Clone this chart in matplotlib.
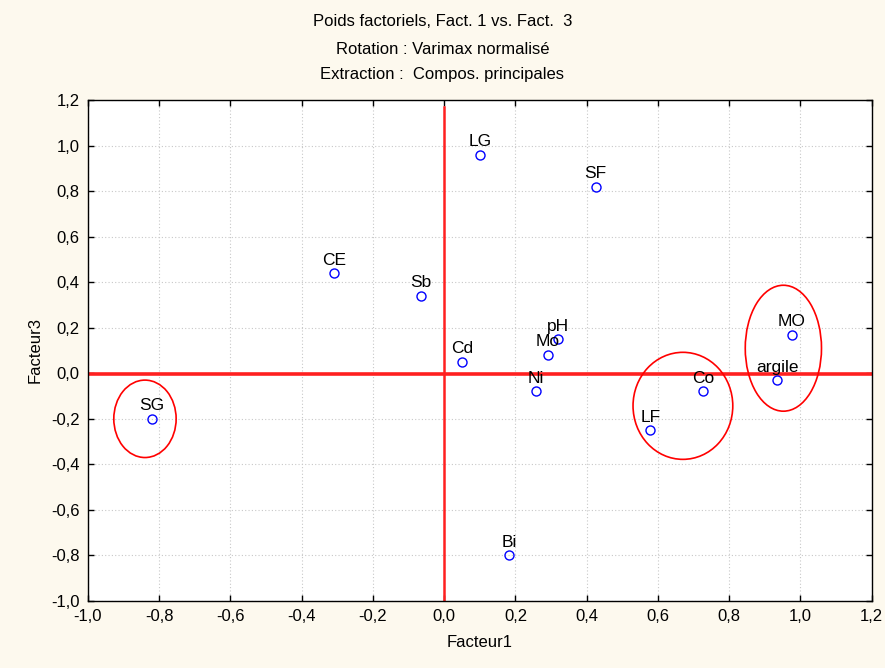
import matplotlib

matplotlib.use("Agg")
import matplotlib.pyplot as plt
from matplotlib.patches import Ellipse
from matplotlib.ticker import FuncFormatter, MultipleLocator

plt.rcParams["font.family"] = ["Liberation Sans", "DejaVu Sans"]

# loadings
labels = ["LG", "SF", "CE", "Sb", "Cd", "pH", "Mo", "Ni", "Bi", "LF", "Co", "argile", "MO", "SG"]
fact1 = [0.10, 0.425, -0.31, -0.065, 0.05, 0.32, 0.29, 0.258, 0.183, 0.579, 0.727, 0.935, 0.975, -0.82]
fact3 = [0.96, 0.82, 0.44, 0.34, 0.05, 0.15, 0.08, -0.08, -0.80, -0.25, -0.08, -0.03, 0.17, -0.20]

# groups circled by hand (centre x, centre y, width, height)
groups = [
    (-0.84, -0.20, 0.175, 0.34),
    (0.67, -0.143, 0.28, 0.47),
    (0.952, 0.11, 0.214, 0.553),
]

BG = "#fdf9ee"

fig = plt.figure(figsize=(8.85, 6.68), dpi=100, facecolor=BG)
ax = fig.add_axes((0.0994, 0.1003, 0.8856, 0.7500))
ax.set_facecolor("white")

ax.set_xlim(-1.0, 1.2)
ax.set_ylim(-1.0, 1.2)
ax.xaxis.set_major_locator(MultipleLocator(0.2))
ax.yaxis.set_major_locator(MultipleLocator(0.2))
fmt = FuncFormatter(lambda v, _: f"{v:.1f}".replace(".", ",").replace("-0,0", "0,0"))
ax.xaxis.set_major_formatter(fmt)
ax.yaxis.set_major_formatter(fmt)
ax.grid(True, linestyle=(0, (1, 2)), color="#c8c8c8", lw=0.8)
ax.set_axisbelow(True)
ax.tick_params(direction="in", length=4, width=1, top=True, right=True,
               labelsize=12, pad=6, colors="black")
for s in ax.spines.values():
    s.set_linewidth(1.0)
    s.set_color("black")

# axes through origin
ax.axhline(-0.005, color="#ff2020", lw=2.6, zorder=2)
ax.plot([0, 0], [-1.0, 1.17], color="#ff2020", lw=1.8, zorder=2)

ax.plot(fact1, fact3, "o", mfc="none", mec="blue", ms=6.5, mew=1.0, zorder=4)
for lab, x, y in zip(labels, fact1, fact3):
    ax.annotate(lab, (x, y), xytext=(0, 4), textcoords="offset points",
                ha="center", va="bottom", fontsize=12.5, zorder=5)

for cx, cy, w, h in groups:
    ax.add_patch(Ellipse((cx, cy), w, h, fill=False, ec="red", lw=1.2, zorder=3))

ax.set_xlabel("Facteur1", fontsize=12, labelpad=8)
ax.set_ylabel("Facteur3", fontsize=12, labelpad=6)

fig.text(0.5, 1 - 22 / 668, "Poids factoriels, Fact. 1 vs. Fact.  3", ha="center", va="center", fontsize=12)
fig.text(0.5, 1 - 49 / 668, "Rotation : Varimax normalisé", ha="center", va="center", fontsize=12)
fig.text(0.5, 1 - 75 / 668, "Extraction :  Compos. principales", ha="center", va="center", fontsize=12)

fig.savefig("out.png", dpi=100, facecolor=BG)
